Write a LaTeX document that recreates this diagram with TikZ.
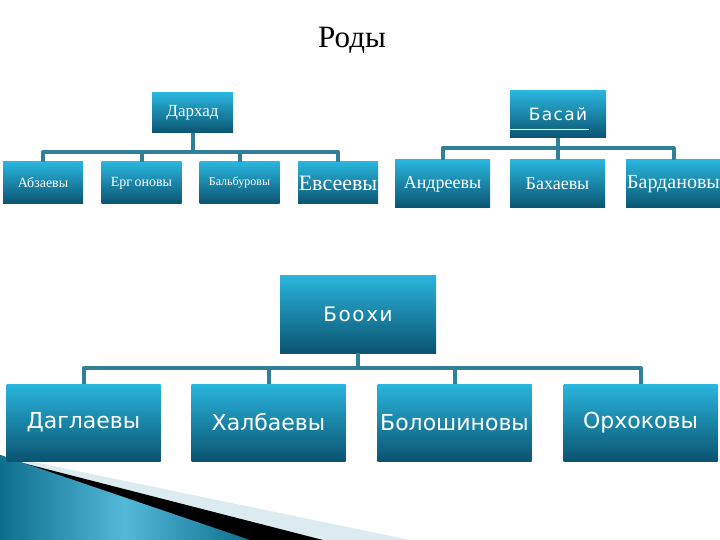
\documentclass[tikz,border=0pt]{standalone}
\usepackage{fontspec}
\setmainfont{Liberation Serif}
\newfontfamily\boxsans{DejaVu Sans}
\newfontfamily\boxspaced[LetterSpace=8]{DejaVu Sans}
\usetikzlibrary{calc}
\definecolor{boxtop}{RGB}{42,181,222}
\definecolor{boxbottom}{RGB}{10,84,112}
\definecolor{linkteal}{RGB}{50,127,152}
\definecolor{swooshlight}{RGB}{220,235,240}
\definecolor{swooshdark}{RGB}{14,110,142}
\definecolor{swooshmid}{RGB}{84,184,216}
\tikzset{
  rodbox/.style={
    top color=boxtop,
    bottom color=boxbottom,
    text=white,
    inner sep=0pt
  },
  clanbox/.style={rodbox, minimum width=80pt, minimum height=42pt},
  clanwide/.style={rodbox, minimum width=95pt, minimum height=48pt},
  lowbox/.style={rodbox, minimum width=154pt, minimum height=77pt},
  link/.style={
    draw=linkteal,
    line width=4pt,
    line join=round
  }
}
\newcommand{\sz}[1]{\fontsize{#1}{#1}\selectfont}

\begin{document}
\begin{tikzpicture}[x=1pt, y=-1pt]
  \clip (0,0) rectangle (720,540);
  % swoosh in the lower left corner
  \fill[swooshlight] (0,455) -- (410,540) -- (0,540) -- cycle;
  \fill[black] (0,455) -- (15,461) -- (323,540) -- (0,540) -- cycle;
  \shade[left color=swooshdark, right color=swooshdark, middle color=swooshmid]
    (0,455) -- (250,540) -- (0,540) -- cycle;

  \node[anchor=base] (title) at (352,48) {\sz{31}Роды};

  % first row
  \node[rodbox, minimum width=81pt, minimum height=40pt] (darkhad) at (192.5,113) {\sz{17}Дархад};
  \node[clanbox] (abzaev) at (43,183) {\sz{14}Абзаевы};
  \node[clanbox] (ergon) at (141.5,183) {\sz{14}Ерг\kern2.5pt оновы};
  \node[clanbox] (balbur) at (239.5,183) {\sz{12}Бальбуровы};
  \node[clanbox] (evsee) at (338,183) {\sz{22}Евсеевы};

  \node[rodbox, minimum width=96pt, minimum height=47pt] (basai) at (558,114.5) {\boxspaced\sz{17}Басай};
  \draw[white, line width=0.7pt] ($(basai.south west)+(0,-9)$) -- ++(79,0);
  \node[clanwide] (andree) at (442.5,184) {\sz{18}Андреевы};
  \node[clanwide] (bakhae) at (557.5,184) {\sz{18}Бахаевы};
  \node[clanwide] (bardan) at (673.5,184) {\sz{20}Бардановы};

  % second row
  \node[rodbox, minimum width=156pt, minimum height=78pt] (boohi) at (358,314) {\boxspaced\sz{20}Боохи};
  \node[lowbox] (daglae) at (83.5,422.5) {\boxsans\sz{22}Даглаевы};
  \node[lowbox] (khalbae) at (268.5,422.5) {\boxsans\sz{22}Халбаевы};
  \node[lowbox] (boloshin) at (454.5,422.5) {\boxsans\sz{22}Болошиновы};
  \node[lowbox] (orkhok) at (640.5,422.5) {\boxsans\sz{22}Орхоковы};

  \foreach \c in {abzaev,ergon,balbur,evsee}
    \draw[link] (darkhad.south) -- ++(0,19) -| (\c.north);
  \foreach \c in {andree,bakhae,bardan}
    \draw[link] (basai.south) -- ++(0,10) -| (\c.north);
  \foreach \c in {daglae,khalbae,boloshin,orkhok}
    \draw[link] (boohi.south) -- ++(0,15) -| (\c.north);
\end{tikzpicture}
\end{document}
